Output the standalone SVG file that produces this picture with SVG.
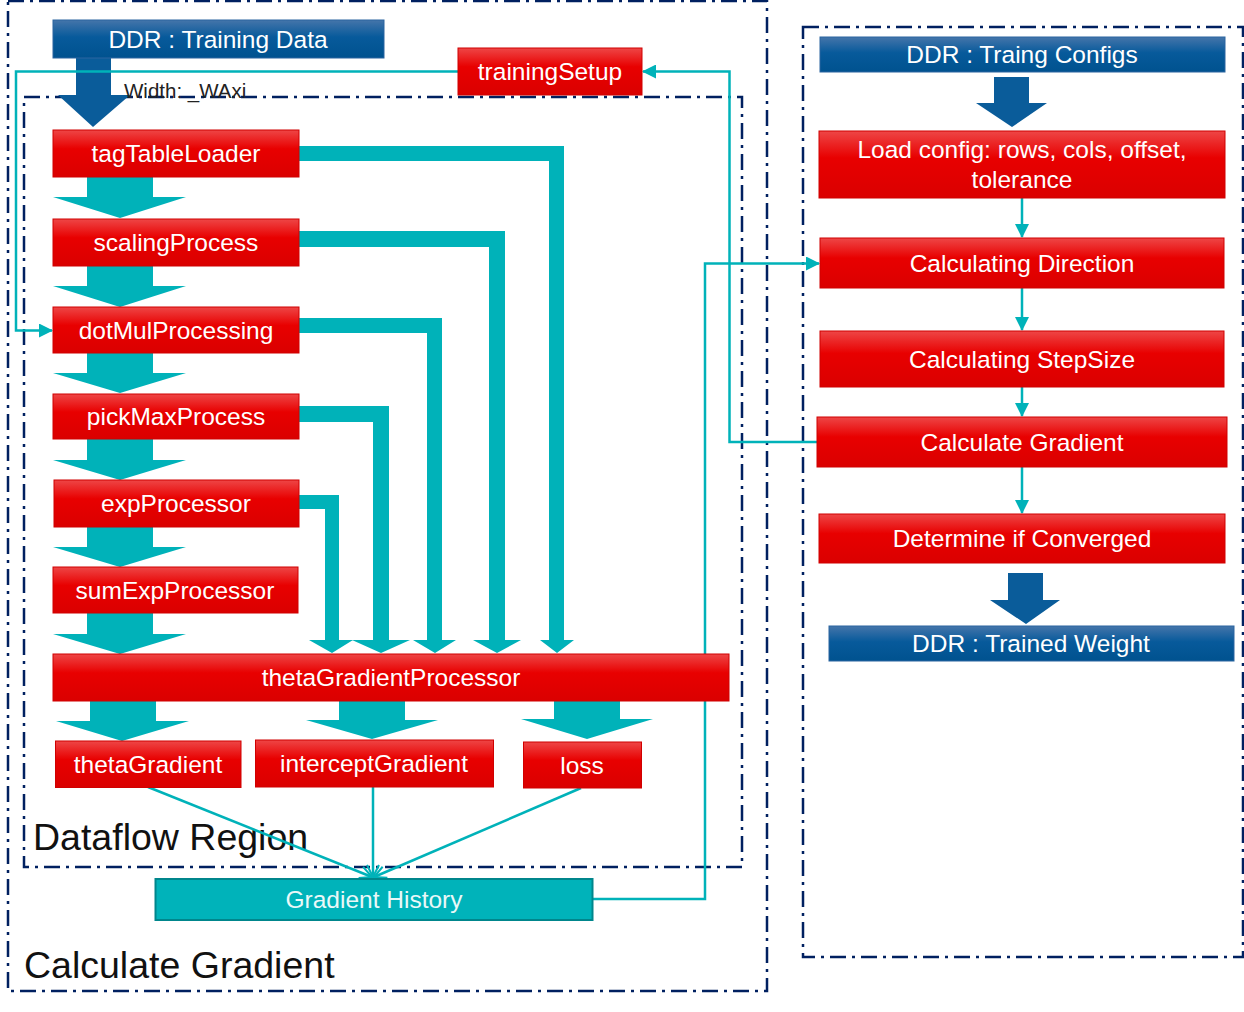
<svg xmlns="http://www.w3.org/2000/svg" width="1244" height="1012" viewBox="0 0 1244 1012">
<defs>
<linearGradient id="gRed" x1="0" y1="0" x2="0" y2="1">
<stop offset="0" stop-color="#EE4646"/>
<stop offset="0.4" stop-color="#E80000"/>
<stop offset="1" stop-color="#DA0000"/>
</linearGradient>
<linearGradient id="gBlue" x1="0" y1="0" x2="0" y2="1">
<stop offset="0" stop-color="#4575AA"/>
<stop offset="0.45" stop-color="#075A9B"/>
<stop offset="1" stop-color="#00528F"/>
</linearGradient>
<marker id="tri" markerUnits="userSpaceOnUse" markerWidth="14" markerHeight="14" viewBox="0 0 14 14" refX="13" refY="7" orient="auto">
<path d="M0,0 L14,7 L0,14 Z" fill="#00B2B9"/>
</marker>
<marker id="vee" markerUnits="userSpaceOnUse" markerWidth="14" markerHeight="14" viewBox="0 0 14 14" refX="13" refY="7" orient="auto">
<path d="M1,1 L13,7 L1,13" fill="none" stroke="#00B2B9" stroke-width="2"/>
</marker>
</defs>
<style>
.region{fill:none;stroke:#002060;stroke-width:2.5;stroke-dasharray:16 6 3 6}
.red{fill:url(#gRed);stroke:#D00000;stroke-width:1}
.blue{fill:url(#gBlue);stroke:#2A64A0;stroke-width:1}
.hist{fill:#00B3BA;stroke:#00868C;stroke-width:2}
.lbl{font-family:"Liberation Sans",Arial,sans-serif;font-size:24.5px;fill:#FFFFFF;text-anchor:middle}
.big{font-family:"Liberation Sans",Arial,sans-serif;font-size:37.5px;fill:#111111}
.small{font-family:"Liberation Sans",Arial,sans-serif;font-size:20.5px;fill:#222222}
.fat{fill:#00B2B9}
.fatb{fill:#0A5C9A}
.thin{fill:none;stroke:#00B2B9;stroke-width:2.5}
</style>

<!-- regions -->
<rect class="region" x="8" y="1" width="759" height="990"/>
<rect class="region" x="24" y="97" width="718" height="770"/>
<rect class="region" x="803" y="27" width="440" height="930"/>
<text class="big" x="33" y="850">Dataflow Region</text>
<text class="big" x="24" y="978">Calculate Gradient</text>

<!-- connectors -->
<g id="connectors">
<polygon class="fatb" points="76,58 111,58 111,95 130,95 93,127 58,95 76,95"/>
<polygon class="fatb" points="994,77 1029,77 1029,103 1047,103 1012,127 976,103 994,103"/>
<polygon class="fatb" points="1008,573 1043,573 1043,600 1060,600 1026,624 990,600 1008,600"/>
<polygon class="fat" points="87,177 153,177 153,197 186,197 120,218 53,197 87,197"/>
<polygon class="fat" points="87,266 153,266 153,286 186,286 120,307 53,286 87,286"/>
<polygon class="fat" points="87,353 153,353 153,373 186,373 120,393 53,373 87,373"/>
<polygon class="fat" points="87,439 153,439 153,460 186,460 120,480 53,460 87,460"/>
<polygon class="fat" points="87,527 153,527 153,547 186,547 120,567 53,547 87,547"/>
<polygon class="fat" points="87,613 153,613 153,634 186,634 120,654 53,634 87,634"/>
<polygon class="fat" points="299,146 564,146 564,640 574,640 557,653 540,640 549,640 549,161 299,161"/>
<polygon class="fat" points="299,231 505,231 505,640 521,640 497,653 473,640 489,640 489,247 299,247"/>
<polygon class="fat" points="299,318 442,318 442,640 456,640 435,653 413,640 427,640 427,333 299,333"/>
<polygon class="fat" points="299,406 389,406 389,640 410,640 381,653 352,640 373,640 373,422 299,422"/>
<polygon class="fat" points="299,495 339,495 339,640 353,640 332,653 309,640 325,640 325,509 299,509"/>
<polygon class="fat" points="90,701 156,701 156,721 189,721 122,741 56,721 90,721"/>
<polygon class="fat" points="339,700 405,700 405,720 438,720 372,739 306,720 339,720"/>
<polygon class="fat" points="554,700 620,700 620,719 653,719 587,739 521,719 554,719"/>
<path class="thin" d="M458,71.5 H16 V330.5 H52" marker-end="url(#tri)"/>
<path class="thin" d="M817,442 H729.5 V71.5 H643" marker-end="url(#tri)"/>
<path class="thin" d="M592,899 H705 V263.5 H819" marker-end="url(#tri)"/>
<path class="thin" d="M148,787 L372,877" marker-end="url(#vee)"/>
<path class="thin" d="M373,787 L373,877" marker-end="url(#vee)"/>
<path class="thin" d="M581,788 L374,877" marker-end="url(#vee)"/>
<path class="thin" d="M1022,198 V237" marker-end="url(#tri)"/>
<path class="thin" d="M1022,288 V330" marker-end="url(#tri)"/>
<path class="thin" d="M1022,387 V416" marker-end="url(#tri)"/>
<path class="thin" d="M1022,467 V513" marker-end="url(#tri)"/>
</g>

<text class="small" x="124" y="98">Width: _WAxi</text>

<!-- left nodes -->
<g id="ddr-training-data"><rect class="blue" x="53" y="20" width="331" height="38"/><text class="lbl" x="218" y="47.5">DDR : Training Data</text></g>
<g id="trainingSetup"><rect class="red" x="458" y="48" width="184" height="47"/><text class="lbl" x="550" y="80">trainingSetup</text></g>
<g id="tagTableLoader"><rect class="red" x="53" y="130" width="246" height="47"/><text class="lbl" x="176" y="162">tagTableLoader</text></g>
<g id="scalingProcess"><rect class="red" x="53" y="219" width="246" height="47"/><text class="lbl" x="176" y="251">scalingProcess</text></g>
<g id="dotMulProcessing"><rect class="red" x="53" y="307" width="246" height="46"/><text class="lbl" x="176" y="338.5">dotMulProcessing</text></g>
<g id="pickMaxProcess"><rect class="red" x="53" y="394" width="246" height="45"/><text class="lbl" x="176" y="425">pickMaxProcess</text></g>
<g id="expProcessor"><rect class="red" x="54" y="480" width="245" height="47"/><text class="lbl" x="176" y="512">expProcessor</text></g>
<g id="sumExpProcessor"><rect class="red" x="53" y="567" width="245" height="46"/><text class="lbl" x="175" y="598.5">sumExpProcessor</text></g>
<g id="thetaGradientProcessor"><rect class="red" x="53" y="654" width="676" height="47"/><text class="lbl" x="391" y="686">thetaGradientProcessor</text></g>
<g id="thetaGradient"><rect class="red" x="55.5" y="741" width="185.5" height="46.5"/><text class="lbl" x="148" y="772.5">thetaGradient</text></g>
<g id="interceptGradient"><rect class="red" x="255.5" y="740" width="238" height="47"/><text class="lbl" x="374" y="772">interceptGradient</text></g>
<g id="loss"><rect class="red" x="523.5" y="742" width="118" height="46"/><text class="lbl" x="582" y="773.5">loss</text></g>
<g id="gradientHistory"><rect class="hist" x="155.5" y="879" width="437" height="41"/><text class="lbl" x="374" y="908" style="fill:#EAF8F8">Gradient History</text></g>

<!-- right nodes -->
<g id="ddr-training-configs"><rect class="blue" x="820" y="37" width="405" height="35"/><text class="lbl" x="1022" y="63">DDR : Traing Configs</text></g>
<g id="loadConfig"><rect class="red" x="819" y="131" width="406" height="67"/><text class="lbl" x="1022" y="158">Load config: rows, cols, offset,</text><text class="lbl" x="1022" y="188">tolerance</text></g>
<g id="calcDirection"><rect class="red" x="820" y="238" width="404" height="50"/><text class="lbl" x="1022" y="271.5">Calculating Direction</text></g>
<g id="calcStepSize"><rect class="red" x="820" y="331" width="404" height="56"/><text class="lbl" x="1022" y="367.5">Calculating StepSize</text></g>
<g id="calcGradient"><rect class="red" x="817" y="417" width="410" height="50"/><text class="lbl" x="1022" y="450.5">Calculate Gradient</text></g>
<g id="converged"><rect class="red" x="819" y="514" width="406" height="49"/><text class="lbl" x="1022" y="547">Determine if Converged</text></g>
<g id="ddr-trained-weight"><rect class="blue" x="829" y="626" width="405" height="35"/><text class="lbl" x="1031" y="652">DDR : Trained Weight</text></g>
</svg>
